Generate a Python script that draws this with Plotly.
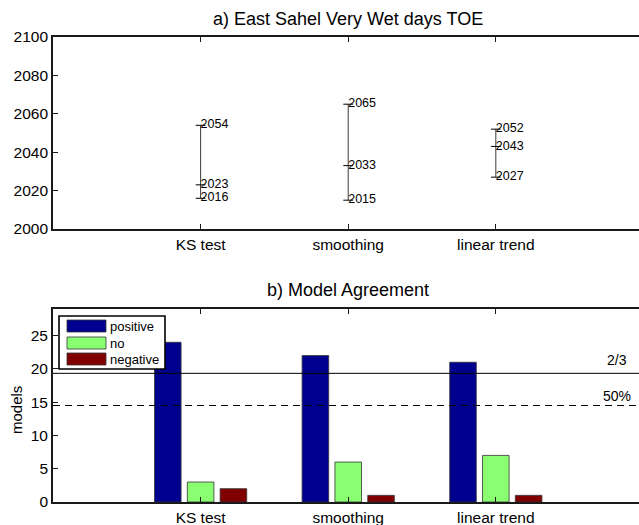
import plotly.graph_objects as go

# ---------------- data ----------------
categories = ["KS test", "smoothing", "linear trend"]
cat_pos = [1, 2, 3]

toe_high = [2054, 2065, 2052]
toe_mid = [2023, 2033, 2043]
toe_low = [2016, 2015, 2027]

series_names = ["positive", "no", "negative"]
positive = [24, 22, 21]
no_change = [3, 6, 7]
negative = [2, 1, 1]

n_models = 29
thresholds = [2 / 3, 0.5]
threshold_labels = ["2/3", "50%"]
threshold_dash = ["solid", "7px,5px"]

# ---------------- style ----------------
FONT = "Liberation Sans, Arial, Helvetica, sans-serif"
colors = ["#00008F", "#8AFF72", "#800000"]
axis_col = "#1a1a1a"
W, H = 639, 525
ML, MR, MT, MB = 53, 0, 37, 23
XMAX = 3.97
TICK_SIZE = 15.5

fig = go.Figure()

# ---- panel a: TOE ranges ----
for p, lo, mi, hi in zip(cat_pos, toe_low, toe_mid, toe_high):
    fig.add_trace(go.Scatter(
        x=[p, p], y=[lo, hi], mode="lines",
        line=dict(color="#3a3a3a", width=1), showlegend=False,
        hoverinfo="skip", xaxis="x", yaxis="y"))
    vals = [hi, mi, lo]
    fig.add_trace(go.Scatter(
        x=[p] * 3, y=vals, mode="markers",
        marker=dict(symbol="line-ew", size=7, line=dict(color="black", width=1)),
        showlegend=False, hoverinfo="skip", xaxis="x", yaxis="y"))
    fig.add_trace(go.Scatter(
        x=[p] * 3, y=vals, mode="text", text=[str(v) for v in vals],
        textposition="middle right",
        textfont=dict(family=FONT, size=12.5, color="black"),
        showlegend=False, hoverinfo="skip", xaxis="x", yaxis="y"))

# ---- panel b: model agreement bars ----
for name, vals, c in zip(series_names, [positive, no_change, negative], colors):
    fig.add_trace(go.Bar(
        x=cat_pos, y=vals, name=name,
        marker=dict(color=c, line=dict(color="#333333", width=0.8)),
        showlegend=False, xaxis="x2", yaxis="y2"))

for t, d in zip(thresholds, threshold_dash):
    fig.add_trace(go.Scatter(
        x=[0, XMAX], y=[n_models * t] * 2, mode="lines",
        line=dict(color="black", width=1, dash=d), showlegend=False,
        hoverinfo="skip", xaxis="x2", yaxis="y2"))

annotations = []
for t, lab, ys in zip(thresholds, threshold_labels, [3, 0]):
    annotations.append(dict(
        x=3.82, y=n_models * t, xref="x2", yref="y2", text=lab, showarrow=False,
        xanchor="center", yanchor="bottom", yshift=ys,
        font=dict(family=FONT, size=14, color="black")))

plot_h = H - MT - MB
def py(px):
    return (H - MB - px) / plot_h

annotations.append(dict(x=2, y=py(19), xref="x", yref="paper", text="a) East Sahel Very Wet days TOE",
                        showarrow=False, xanchor="center", yanchor="middle",
                        font=dict(family=FONT, size=18, color="black")))
annotations.append(dict(x=2, y=py(290), xref="x2", yref="paper", text="b) Model Agreement",
                        showarrow=False, xanchor="center", yanchor="middle",
                        font=dict(family=FONT, size=18, color="black")))
annotations.append(dict(x=(16 - ML) / (W - ML - MR), y=py(410), xref="paper", yref="paper",
                        text="models", textangle=-90, showarrow=False,
                        xanchor="center", yanchor="middle",
                        font=dict(family=FONT, size=15, color="black")))

# ---- manual legend (box with long swatches) ----
PW = W - ML - MR
BOT_TOP, BOT_BOT = 309, 502
def dx(px):
    return (px - ML) / PW
def dy(px):
    return (BOT_BOT - px) / (BOT_BOT - BOT_TOP)

shapes = [dict(type="rect", xref="x2 domain", yref="y2 domain",
               x0=dx(59), x1=dx(165), y0=dy(369), y1=dy(316),
               fillcolor="white", line=dict(color="black", width=1.6), layer="above")]
row_tops = [320, 337, 353]
for name, c, rt in zip(series_names, colors, row_tops):
    shapes.append(dict(type="rect", xref="x2 domain", yref="y2 domain",
                       x0=dx(67), x1=dx(106), y0=dy(rt + 12), y1=dy(rt),
                       fillcolor=c, line=dict(color="#333333", width=0.8), layer="above"))
    annotations.append(dict(x=dx(108), y=dy(rt + 6), xref="x2 domain", yref="y2 domain",
                            text=name, showarrow=False, xanchor="left", yanchor="middle",
                            font=dict(family=FONT, size=13, color="black")))

axis_common = dict(showline=True, linecolor=axis_col, linewidth=1.8, ticks="inside",
                   ticklen=5, tickcolor=axis_col, tickwidth=1, showgrid=False, zeroline=False,
                   tickfont=dict(family=FONT, size=TICK_SIZE, color="black"))

fig.update_layout(
    width=W, height=H,
    margin=dict(l=ML, r=MR, t=MT, b=MB),
    paper_bgcolor="white", plot_bgcolor="white",
    barmode="group", bargap=0.333, bargroupgap=0.19,
    showlegend=False,
    xaxis=dict(domain=[0, 1], range=[0, XMAX], tickvals=cat_pos, ticktext=categories,
               anchor="y", mirror="ticks", **axis_common),
    yaxis=dict(domain=[py(229), 1], range=[2000, 2100], tickvals=list(range(2000, 2101, 20)),
               anchor="x", **axis_common),
    xaxis2=dict(domain=[0, 1], range=[0, XMAX], tickvals=cat_pos, ticktext=categories,
                anchor="y2", mirror="ticks", **axis_common),
    yaxis2=dict(domain=[0, py(309)], range=[0, n_models], tickvals=list(range(0, 26, 5)),
                anchor="x2", **axis_common),
    annotations=annotations,
    shapes=shapes,
)

fig.write_html("out.html", config={"displayModeBar": False},
               post_script="document.body.style.margin='0px';document.body.style.overflow='hidden';")
